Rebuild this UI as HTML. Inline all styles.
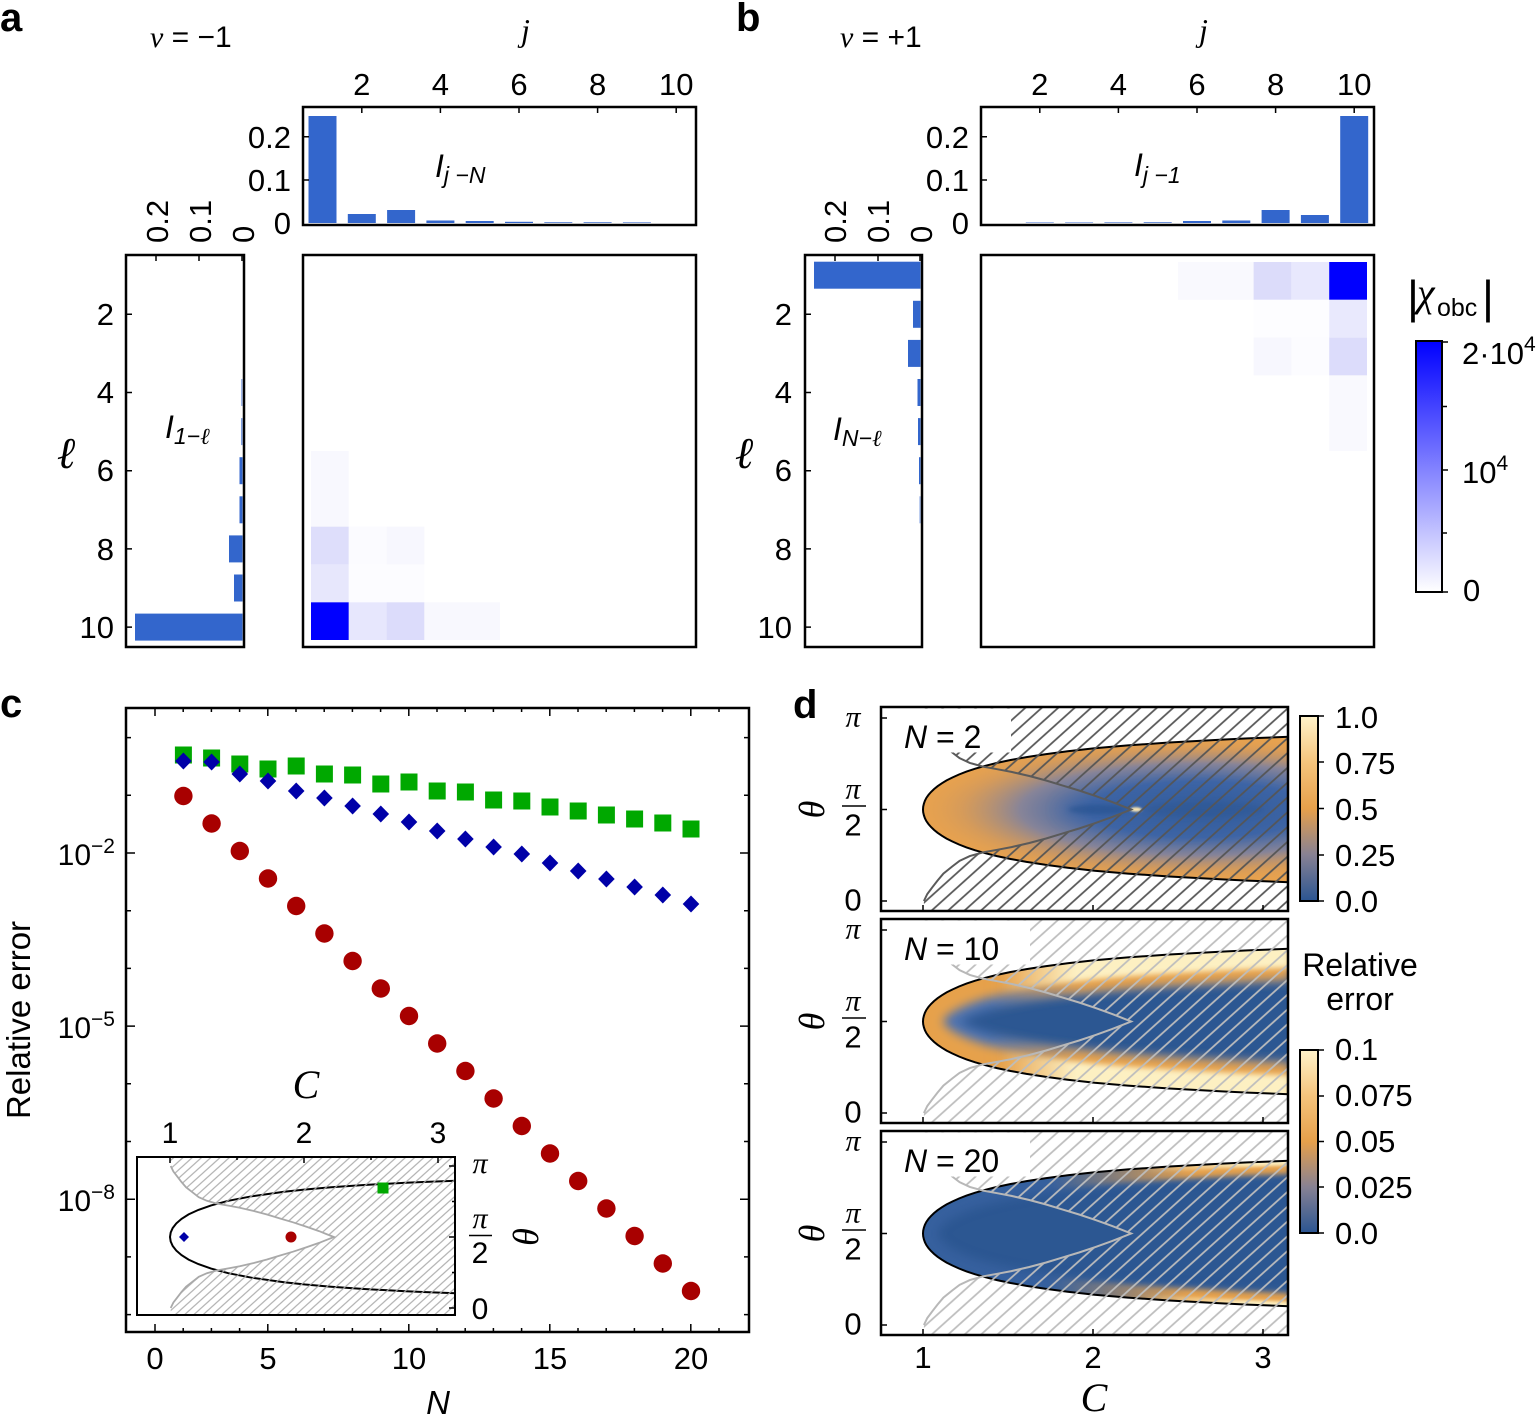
<!DOCTYPE html>
<html><head><meta charset="utf-8">
<style>
html,body{margin:0;padding:0;background:#fff;}
svg{display:block;}
text{font-family:"Liberation Sans",Arial,sans-serif;fill:#000;}
.s{font-family:"Liberation Serif","DejaVu Serif",serif;font-style:italic;}
.i{font-style:italic;}
.b{font-weight:bold;}
</style></head><body>
<svg width="1540" height="1417" viewBox="0 0 1540 1417" xmlns="http://www.w3.org/2000/svg">
<defs>
 <linearGradient id="gB" x1="0" y1="0" x2="0" y2="1"><stop offset="0" stop-color="#0000ff"/><stop offset="1" stop-color="#ffffff"/></linearGradient>
 <linearGradient id="gD" x1="0" y1="0" x2="0" y2="1">
  <stop offset="0" stop-color="#fff3ca"/><stop offset="0.25" stop-color="#f5c47c"/><stop offset="0.5" stop-color="#e6a04b"/><stop offset="0.75" stop-color="#878193"/><stop offset="1" stop-color="#2b5592"/>
 </linearGradient>
 <radialGradient id="rg1">
  <stop offset="0" stop-color="#2e5a99"/>
  <stop offset="0.38" stop-color="#3e65a6"/>
  <stop offset="0.62" stop-color="#878498" stop-opacity="1"/>
  <stop offset="0.82" stop-color="#c99662" stop-opacity="0.6"/>
  <stop offset="1" stop-color="#e8a24e" stop-opacity="0"/>
 </radialGradient>
 <linearGradient id="or2" gradientUnits="userSpaceOnUse" x1="990" y1="0" x2="1080" y2="0"><stop offset="0" stop-color="#e6a14c" stop-opacity="0"/><stop offset="1" stop-color="#e6a14c" stop-opacity="1"/></linearGradient>
 <linearGradient id="ye2" gradientUnits="userSpaceOnUse" x1="1000" y1="0" x2="1075" y2="0"><stop offset="0" stop-color="#fdf0c2" stop-opacity="0"/><stop offset="1" stop-color="#fdf0c2" stop-opacity="1"/></linearGradient>
 <linearGradient id="or3" gradientUnits="userSpaceOnUse" x1="1050" y1="0" x2="1190" y2="0"><stop offset="0" stop-color="#e6a14c" stop-opacity="0"/><stop offset="1" stop-color="#e6a14c" stop-opacity="1"/></linearGradient>
 <linearGradient id="ye3" gradientUnits="userSpaceOnUse" x1="1140" y1="0" x2="1250" y2="0"><stop offset="0" stop-color="#fdf0c2" stop-opacity="0"/><stop offset="1" stop-color="#fdf0c2" stop-opacity="1"/></linearGradient>
 <filter id="f5" x="-20%" y="-60%" width="140%" height="220%"><feGaussianBlur stdDeviation="5"/></filter>
 <filter id="f3" x="-20%" y="-60%" width="140%" height="220%"><feGaussianBlur stdDeviation="3"/></filter>
 <filter id="f8" x="-30%" y="-100%" width="160%" height="300%"><feGaussianBlur stdDeviation="8"/></filter>
 <filter id="f2" x="-30%" y="-100%" width="160%" height="300%"><feGaussianBlur stdDeviation="2.5"/></filter>
 <filter id="f15" x="-20%" y="-60%" width="140%" height="220%"><feGaussianBlur stdDeviation="1.5"/></filter>
 <filter id="f1" x="-50%" y="-200%" width="200%" height="500%"><feGaussianBlur stdDeviation="1"/></filter>
 <pattern id="hd1" patternUnits="userSpaceOnUse" width="20" height="11" patternTransform="rotate(-42)"><line x1="-2" y1="5.5" x2="22" y2="5.5" stroke="#555" stroke-width="1.7"/></pattern>
 <pattern id="hd2" patternUnits="userSpaceOnUse" width="20" height="11" patternTransform="rotate(-42)"><line x1="-2" y1="5.5" x2="22" y2="5.5" stroke="#bdbdbd" stroke-width="1.7"/></pattern>
 <pattern id="hc" patternUnits="userSpaceOnUse" width="10" height="6.2" patternTransform="rotate(-42)"><line x1="-2" y1="3.1" x2="12" y2="3.1" stroke="#a9a9a9" stroke-width="1.1"/></pattern>
 <path id="blk" d="M1289,-72.7 L1247.7,-71.1 L1222.1,-69.9 L1169.2,-67 L1127.8,-64.1 L1094.6,-61.2 L1067.7,-58.25 L1045.3,-55.3 L1026.5,-52.4 L1010.6,-49.5 L997,-46.6 L985.3,-43.7 L975.2,-40.8 L966.5,-37.9 L959,-35 L952.4,-32 L946.6,-29.1 L941.8,-26.2 L937.6,-23.3 L934,-20.4 L931,-17.5 L928.5,-14.6 L926.4,-11.65 L924.9,-8.74 L923.9,-5.8 L923.2,-2.9 L923,0 L923.2,2.9 L923.9,5.8 L924.9,8.74 L926.4,11.65 L928.5,14.6 L931,17.5 L934,20.4 L937.6,23.3 L941.8,26.2 L946.6,29.1 L952.4,32 L959,35 L966.5,37.9 L975.2,40.8 L985.3,43.7 L997,46.6 L1010.6,49.5 L1026.5,52.4 L1045.3,55.3 L1067.7,58.25 L1094.6,61.2 L1127.8,64.1 L1169.2,67 L1222.1,69.9 L1247.7,71.1 L1289,72.7"/>
 <path id="gry" d="M923.9,91.5 L927.3,84.5 L932.4,77.7 L937.5,71.1 L943.4,64.1 L952.2,57 L959.6,51.3 L969.8,46.6 L982.5,43 L997.8,40.2 L1011.4,37.6 L1029.3,33.5 L1046.1,29 L1062.7,23.9 L1079.1,19 L1095.7,13.4 L1112,7.6 L1121.6,3.8 L1131.1,0 L1121.6,-3.8 L1112,-7.6 L1095.7,-13.4 L1079.1,-19 L1062.7,-23.9 L1046.1,-29 L1029.3,-33.5 L1011.4,-37.6 L997.8,-40.2 L982.5,-43 L969.8,-46.6 L959.6,-51.3 L952.2,-57 L943.4,-64.1 L937.5,-71.1 L932.4,-77.7 L927.3,-84.5 L923.9,-91.5"/>
 <path id="hreg" d="M923.9,-102 L1288,-102 L1288,101 L923.9,101 L923.9,91.5 L927.3,84.5 L932.4,77.7 L937.5,71.1 L943.4,64.1 L952.2,57 L959.6,51.3 L969.8,46.6 L982.5,43 L997.8,40.2 L1011.4,37.6 L1029.3,33.5 L1046.1,29 L1062.7,23.9 L1079.1,19 L1095.7,13.4 L1112,7.6 L1121.6,3.8 L1131.1,0 L1121.6,-3.8 L1112,-7.6 L1095.7,-13.4 L1079.1,-19 L1062.7,-23.9 L1046.1,-29 L1029.3,-33.5 L1011.4,-37.6 L997.8,-40.2 L982.5,-43 L969.8,-46.6 L959.6,-51.3 L952.2,-57 L943.4,-64.1 L937.5,-71.1 L932.4,-77.7 L927.3,-84.5 L923.9,-91.5 Z"/>
 <clipPath id="inD"><path d="M1289,-72.7 L1247.7,-71.1 L1222.1,-69.9 L1169.2,-67 L1127.8,-64.1 L1094.6,-61.2 L1067.7,-58.25 L1045.3,-55.3 L1026.5,-52.4 L1010.6,-49.5 L997,-46.6 L985.3,-43.7 L975.2,-40.8 L966.5,-37.9 L959,-35 L952.4,-32 L946.6,-29.1 L941.8,-26.2 L937.6,-23.3 L934,-20.4 L931,-17.5 L928.5,-14.6 L926.4,-11.65 L924.9,-8.74 L923.9,-5.8 L923.2,-2.9 L923,0 L923.2,2.9 L923.9,5.8 L924.9,8.74 L926.4,11.65 L928.5,14.6 L931,17.5 L934,20.4 L937.6,23.3 L941.8,26.2 L946.6,29.1 L952.4,32 L959,35 L966.5,37.9 L975.2,40.8 L985.3,43.7 L997,46.6 L1010.6,49.5 L1026.5,52.4 L1045.3,55.3 L1067.7,58.25 L1094.6,61.2 L1127.8,64.1 L1169.2,67 L1222.1,69.9 L1247.7,71.1 L1289,72.7 Z"/></clipPath>
</defs>

<!-- ============ PANEL A ============ -->
<text x="0" y="31" font-size="40" class="b">a</text>
<text x="150" y="47" font-size="30"><tspan class="s">ν</tspan> = −1</text>
<text x="521" y="41" font-size="32" class="s">j</text>
<g font-size="31" text-anchor="middle">
 <text x="361.8" y="95">2</text><text x="440.4" y="95">4</text><text x="519" y="95">6</text><text x="597.6" y="95">8</text><text x="676.2" y="95">10</text>
</g>
<g font-size="31" text-anchor="end">
 <text x="291" y="148">0.2</text><text x="291" y="191">0.1</text><text x="291" y="234">0</text>
</g>
<g fill="#3366cc">
 <rect x="308.5" y="116" width="28" height="107"/>
 <rect x="347.8" y="214" width="28" height="9"/>
 <rect x="387.1" y="210" width="28" height="13"/>
 <rect x="426.4" y="220.5" width="28" height="2.5"/>
 <rect x="465.7" y="221" width="28" height="2"/>
 <rect x="505" y="221.8" width="28" height="1.2"/>
 <rect x="544.3" y="222" width="28" height="1" fill="#6f92d8"/>
 <rect x="583.6" y="222" width="28" height="1" fill="#6f92d8"/>
 <rect x="622.9" y="222" width="28" height="1" fill="#8aa6e0"/>
</g>
<rect x="303" y="107" width="393" height="118" fill="none" stroke="#000" stroke-width="2.5"/>
<path d="M361.8,107v6M440.4,107v6M519,107v6M597.6,107v6M676.2,107v6M303,180h6M303,136.7h6" stroke="#000" stroke-width="1.5"/>
<text x="435" y="177" font-size="32" class="i">I<tspan font-size="23" dy="6">j −N</tspan></text>

<!-- left bars a -->
<g font-size="31">
 <text transform="translate(168,243) rotate(-90)">0.2</text>
 <text transform="translate(211,243) rotate(-90)">0.1</text>
 <text transform="translate(254,243) rotate(-90)">0</text>
</g>
<g font-size="31" text-anchor="end">
 <text x="114" y="325">2</text><text x="114" y="403">4</text><text x="114" y="481">6</text><text x="114" y="560">8</text><text x="114" y="638">10</text>
</g>
<text x="66" y="468" font-size="44" class="s" text-anchor="middle">ℓ</text>
<g fill="#3366cc">
 <rect x="135" y="613.6" width="107.5" height="27"/>
 <rect x="234" y="574.5" width="8.5" height="27"/>
 <rect x="229" y="535.4" width="13.5" height="27"/>
 <rect x="239.5" y="496.3" width="3" height="27"/>
 <rect x="239.5" y="457.2" width="3" height="27"/>
 <rect x="241" y="418.1" width="1.5" height="27" fill="#7f9fe0"/>
 <rect x="241" y="379" width="1.5" height="27" fill="#9fb6e8"/>
</g>
<rect x="126" y="255" width="118" height="392" fill="none" stroke="#000" stroke-width="2.5"/>
<path d="M126,314.3h6M126,392.5h6M126,470.7h6M126,548.9h6M126,627.1h6M156,255v6M199,255v6M242,255v6" stroke="#000" stroke-width="1.5"/>
<text x="165" y="438" font-size="32" class="i">I<tspan font-size="23" dy="6">1−<tspan class="s">ℓ</tspan></tspan></text>

<!-- heatmap a -->
<g>
 <rect x="311" y="602.2" width="37.8" height="37.8" fill="#0000ff"/>
 <rect x="348.8" y="602.2" width="37.8" height="37.8" fill="#e7e7fd"/>
 <rect x="386.6" y="602.2" width="37.8" height="37.8" fill="#dcdcfb"/>
 <rect x="424.4" y="602.2" width="75.6" height="37.8" fill="#f8f8fe"/>
 <rect x="311" y="564.4" width="37.8" height="37.8" fill="#e7e7fc"/>
 <rect x="348.8" y="564.4" width="75.6" height="37.8" fill="#fcfcff"/>
 <rect x="311" y="526.6" width="37.8" height="37.8" fill="#dedefb"/>
 <rect x="348.8" y="526.6" width="37.8" height="37.8" fill="#fbfbff"/>
 <rect x="386.6" y="526.6" width="37.8" height="37.8" fill="#f7f7fe"/>
 <rect x="311" y="451" width="37.8" height="75.6" fill="#f8f8fe"/>
</g>
<rect x="303" y="255" width="393" height="392" fill="none" stroke="#000" stroke-width="2.5"/>

<!-- ============ PANEL B ============ -->
<text x="736" y="31" font-size="40" class="b">b</text>
<text x="840" y="47" font-size="30"><tspan class="s">ν</tspan> = +1</text>
<text x="1199" y="41" font-size="32" class="s">j</text>
<g font-size="31" text-anchor="middle">
 <text x="1039.8" y="95">2</text><text x="1118.4" y="95">4</text><text x="1197" y="95">6</text><text x="1275.6" y="95">8</text><text x="1354.2" y="95">10</text>
</g>
<g font-size="31" text-anchor="end">
 <text x="969" y="148">0.2</text><text x="969" y="191">0.1</text><text x="969" y="234">0</text>
</g>
<g fill="#3366cc">
 <rect x="1340.2" y="116" width="28" height="107"/>
 <rect x="1300.9" y="215" width="28" height="8"/>
 <rect x="1261.6" y="210" width="28" height="13"/>
 <rect x="1222.3" y="220.5" width="28" height="2.5"/>
 <rect x="1183" y="221" width="28" height="2"/>
 <rect x="1143.7" y="222" width="28" height="1" fill="#6f92d8"/>
 <rect x="1104.4" y="222" width="28" height="1" fill="#8aa6e0"/>
 <rect x="1065.1" y="222" width="28" height="1" fill="#9fb6e8"/>
 <rect x="1025.8" y="222" width="28" height="1" fill="#9fb6e8"/>
</g>
<rect x="981" y="107" width="393" height="118" fill="none" stroke="#000" stroke-width="2.5"/>
<path d="M1039.8,107v6M1118.4,107v6M1197,107v6M1275.6,107v6M1354.2,107v6M981,180h6M981,136.7h6" stroke="#000" stroke-width="1.5"/>
<text x="1134" y="176" font-size="32" class="i">I<tspan font-size="23" dy="7">j −1</tspan></text>

<g font-size="31">
 <text transform="translate(846,243) rotate(-90)">0.2</text>
 <text transform="translate(889,243) rotate(-90)">0.1</text>
 <text transform="translate(932,243) rotate(-90)">0</text>
</g>
<g font-size="31" text-anchor="end">
 <text x="792" y="325">2</text><text x="792" y="403">4</text><text x="792" y="481">6</text><text x="792" y="560">8</text><text x="792" y="638">10</text>
</g>
<text x="744" y="468" font-size="44" class="s" text-anchor="middle">ℓ</text>
<g fill="#3366cc">
 <rect x="814" y="261.7" width="106.5" height="27"/>
 <rect x="913" y="300.8" width="7.5" height="27"/>
 <rect x="908" y="339.9" width="12.5" height="27"/>
 <rect x="917.5" y="379" width="3" height="27"/>
 <rect x="918" y="418.1" width="2.5" height="27"/>
 <rect x="919" y="457.2" width="1.5" height="27"/>
 <rect x="919.5" y="496.3" width="1" height="27" fill="#7f9fe0"/>
</g>
<rect x="805" y="255" width="117" height="392" fill="none" stroke="#000" stroke-width="2.5"/>
<path d="M805,314.3h6M805,392.5h6M805,470.7h6M805,548.9h6M805,627.1h6M835,255v6M878,255v6M920,255v6" stroke="#000" stroke-width="1.5"/>
<text x="833" y="440" font-size="32" class="i">I<tspan font-size="23" dy="6">N−<tspan class="s">ℓ</tspan></tspan></text>

<!-- heatmap b -->
<g>
 <rect x="1178" y="262" width="75.6" height="37.8" fill="#f9f9fe"/>
 <rect x="1253.6" y="262" width="37.8" height="37.8" fill="#dcdcfa"/>
 <rect x="1291.4" y="262" width="37.8" height="37.8" fill="#e8e8fd"/>
 <rect x="1329.2" y="262" width="37.8" height="37.8" fill="#0000ff"/>
 <rect x="1253.6" y="299.8" width="75.6" height="37.8" fill="#fdfdff"/>
 <rect x="1329.2" y="299.8" width="37.8" height="37.8" fill="#e9e9fd"/>
 <rect x="1253.6" y="337.6" width="37.8" height="37.8" fill="#f7f7fe"/>
 <rect x="1291.4" y="337.6" width="37.8" height="37.8" fill="#fcfcff"/>
 <rect x="1329.2" y="337.6" width="37.8" height="37.8" fill="#dcdcfb"/>
 <rect x="1329.2" y="375.4" width="37.8" height="75.6" fill="#f9f9fe"/>
</g>
<rect x="981" y="255" width="393" height="392" fill="none" stroke="#000" stroke-width="2.5"/>

<!-- colorbar b -->
<text x="1407" y="313" font-size="46">|</text>
<text x="1417" y="306" font-size="40" class="s">χ</text>
<text x="1437" y="316" font-size="25">obc</text>
<text x="1482" y="313" font-size="46">|</text>
<rect x="1416" y="341" width="26" height="251" fill="url(#gB)" stroke="#000" stroke-width="2"/>
<path d="M1442,342h6M1442,406.5h5M1442,470h6M1442,533h5M1442,592h6" stroke="#000" stroke-width="1.5"/>
<text x="1462" y="364" font-size="31">2·10<tspan font-size="21" dy="-13">4</tspan></text>
<text x="1462" y="483" font-size="31">10<tspan font-size="21" dy="-13">4</tspan></text>
<text x="1463" y="601" font-size="31">0</text>

<!-- ============ PANEL C ============ -->
<text x="0" y="717" font-size="40" class="b">c</text>
<rect x="126" y="708" width="623" height="624" fill="none" stroke="#000" stroke-width="2.5"/>
<path stroke="#000" stroke-width="1.5" d="M155,1332v-8M183.2,1332v-4M211.4,1332v-4M239.6,1332v-4M267.8,1332v-8M296,1332v-4M324.2,1332v-4M352.4,1332v-4M380.6,1332v-4M408.8,1332v-8M437,1332v-4M465.2,1332v-4M493.4,1332v-4M521.6,1332v-4M549.8,1332v-8M578,1332v-4M606.2,1332v-4M634.4,1332v-4M662.6,1332v-4M690.8,1332v-8M719,1332v-4
M155,708v8M183.2,708v4M211.4,708v4M239.6,708v4M267.8,708v8M296,708v4M324.2,708v4M352.4,708v4M380.6,708v4M408.8,708v8M437,708v4M465.2,708v4M493.4,708v4M521.6,708v4M549.8,708v8M578,708v4M606.2,708v4M634.4,708v4M662.6,708v4M690.8,708v8M719,708v4
M126,737.6h5M126,795.3h5M126,853h9M126,910.7h5M126,968.4h5M126,1026.1h9M126,1083.8h5M126,1141.5h5M126,1199.2h9M126,1256.9h5M126,1314.6h5
M749,737.6h-5M749,795.3h-5M749,853h-9M749,910.7h-5M749,968.4h-5M749,1026.1h-9M749,1083.8h-5M749,1141.5h-5M749,1199.2h-9M749,1256.9h-5M749,1314.6h-5"/>
<g font-size="31" text-anchor="middle">
 <text x="155" y="1369">0</text><text x="268" y="1369">5</text><text x="409" y="1369">10</text><text x="550" y="1369">15</text><text x="691" y="1369">20</text>
</g>
<g font-size="30" text-anchor="end">
 <text x="115" y="865">10<tspan font-size="21" dy="-12">−2</tspan></text>
 <text x="115" y="1038">10<tspan font-size="21" dy="-12">−5</tspan></text>
 <text x="115" y="1211">10<tspan font-size="21" dy="-12">−8</tspan></text>
</g>
<text x="438" y="1414" font-size="33" class="i" text-anchor="middle">N</text>
<text transform="translate(30,1020) rotate(-90)" font-size="33" text-anchor="middle">Relative error</text>

<!-- markers -->
<g fill="#00a800">
 <rect x="174.9" y="746.5" width="17" height="17"/><rect x="203.1" y="749.5" width="17" height="17"/><rect x="231.3" y="755.5" width="17" height="17"/><rect x="259.5" y="760.5" width="17" height="17"/><rect x="287.7" y="757.5" width="17" height="17"/><rect x="315.9" y="765.5" width="17" height="17"/><rect x="344.1" y="766.5" width="17" height="17"/><rect x="372.3" y="775.5" width="17" height="17"/><rect x="400.5" y="773.5" width="17" height="17"/><rect x="428.7" y="782.5" width="17" height="17"/><rect x="456.9" y="783.5" width="17" height="17"/><rect x="485.1" y="791.5" width="17" height="17"/><rect x="513.3" y="792.5" width="17" height="17"/><rect x="541.5" y="798.5" width="17" height="17"/><rect x="569.7" y="802.5" width="17" height="17"/><rect x="597.9" y="806.5" width="17" height="17"/><rect x="626.1" y="810.5" width="17" height="17"/><rect x="654.3" y="814.5" width="17" height="17"/><rect x="682.5" y="820.5" width="17" height="17"/>
</g>
<g fill="#0000a8">
 <path d="M183.4,752.5l8.3,8.5l-8.3,8.5l-8.3,-8.5z"/><path d="M211.6,753.5l8.3,8.5l-8.3,8.5l-8.3,-8.5z"/><path d="M239.8,765.5l8.3,8.5l-8.3,8.5l-8.3,-8.5z"/><path d="M268,772.5l8.3,8.5l-8.3,8.5l-8.3,-8.5z"/><path d="M296.2,782.5l8.3,8.5l-8.3,8.5l-8.3,-8.5z"/><path d="M324.4,789.5l8.3,8.5l-8.3,8.5l-8.3,-8.5z"/><path d="M352.6,797.5l8.3,8.5l-8.3,8.5l-8.3,-8.5z"/><path d="M380.8,805.5l8.3,8.5l-8.3,8.5l-8.3,-8.5z"/><path d="M409,813.5l8.3,8.5l-8.3,8.5l-8.3,-8.5z"/><path d="M437.2,822.5l8.3,8.5l-8.3,8.5l-8.3,-8.5z"/><path d="M465.4,830.5l8.3,8.5l-8.3,8.5l-8.3,-8.5z"/><path d="M493.6,838.5l8.3,8.5l-8.3,8.5l-8.3,-8.5z"/><path d="M521.8,845.5l8.3,8.5l-8.3,8.5l-8.3,-8.5z"/><path d="M550,854.5l8.3,8.5l-8.3,8.5l-8.3,-8.5z"/><path d="M578.2,862.5l8.3,8.5l-8.3,8.5l-8.3,-8.5z"/><path d="M606.4,870.5l8.3,8.5l-8.3,8.5l-8.3,-8.5z"/><path d="M634.6,878.5l8.3,8.5l-8.3,8.5l-8.3,-8.5z"/><path d="M662.8,886.5l8.3,8.5l-8.3,8.5l-8.3,-8.5z"/><path d="M691,895.5l8.3,8.5l-8.3,8.5l-8.3,-8.5z"/>
</g>
<g fill="#a80000">
 <circle cx="183.4" cy="796" r="9.2"/><circle cx="211.6" cy="823.5" r="9.2"/><circle cx="239.8" cy="851" r="9.2"/><circle cx="268" cy="878.5" r="9.2"/><circle cx="296.2" cy="906" r="9.2"/><circle cx="324.4" cy="933.5" r="9.2"/><circle cx="352.6" cy="961" r="9.2"/><circle cx="380.8" cy="988.5" r="9.2"/><circle cx="409" cy="1016" r="9.2"/><circle cx="437.2" cy="1043.5" r="9.2"/><circle cx="465.4" cy="1071" r="9.2"/><circle cx="493.6" cy="1098.5" r="9.2"/><circle cx="521.8" cy="1126" r="9.2"/><circle cx="550" cy="1153.5" r="9.2"/><circle cx="578.2" cy="1181" r="9.2"/><circle cx="606.4" cy="1208.5" r="9.2"/><circle cx="634.6" cy="1236" r="9.2"/><circle cx="662.8" cy="1263.5" r="9.2"/><circle cx="691" cy="1291" r="9.2"/>
</g>

<!-- inset c -->
<rect x="137" y="1157" width="318" height="158" fill="#fff"/>
<path d="M456,1180.7 L426,1181.9 L405.8,1182.8 L364,1185 L331.2,1187.3 L305.3,1189.5 L284,1191.8 L251.6,1196.3 L228.3,1200.8 L211.1,1205.4 L198.4,1209.9 L188.6,1214.4 L181.5,1218.9 L176.3,1223.4 L172.7,1228 L170.7,1232.5 L170,1237 L170.7,1241.5 L172.7,1246 L176.3,1250.6 L181.5,1255.1 L188.6,1259.6 L198.4,1264.1 L211.1,1268.6 L228.3,1273.2 L251.6,1277.7 L284,1282.2 L305.3,1284.5 L331.2,1286.7 L364,1289 L405.8,1291.2 L426,1292.1 L456,1293.3" fill="none" stroke="#000" stroke-width="2"/>
<path fill="url(#hc)" d="M170.7,1158 L455,1158 L455,1315 L170.7,1315 L170.7,1308 L173.4,1302.5 L177.4,1297.3 L181.4,1292.1 L186.1,1286.7 L193,1281.3 L198.8,1276.8 L206.9,1273.2 L216.9,1270.4 L229,1268.2 L239.7,1266.2 L253.8,1263 L267,1259.5 L280.1,1255.5 L293,1251.7 L306.1,1247.4 L319,1242.9 L326.5,1239.9 L334,1237 L326.5,1234.1 L319,1231.1 L306.1,1226.6 L293,1222.3 L280.1,1218.5 L267,1214.5 L253.8,1211 L239.7,1207.8 L229,1205.8 L216.9,1203.6 L206.9,1200.8 L198.8,1197.2 L193,1192.7 L186.1,1187.3 L181.4,1181.9 L177.4,1176.7 L173.4,1171.5 L170.7,1166 Z"/>
<path fill="none" stroke="#a9a9a9" stroke-width="1.8" d="M170.7,1308 L173.4,1302.5 L177.4,1297.3 L181.4,1292.1 L186.1,1286.7 L193,1281.3 L198.8,1276.8 L206.9,1273.2 L216.9,1270.4 L229,1268.2 L239.7,1266.2 L253.8,1263 L267,1259.5 L280.1,1255.5 L293,1251.7 L306.1,1247.4 L319,1242.9 L326.5,1239.9 L334,1237 L326.5,1234.1 L319,1231.1 L306.1,1226.6 L293,1222.3 L280.1,1218.5 L267,1214.5 L253.8,1211 L239.7,1207.8 L229,1205.8 L216.9,1203.6 L206.9,1200.8 L198.8,1197.2 L193,1192.7 L186.1,1187.3 L181.4,1181.9 L177.4,1176.7 L173.4,1171.5 L170.7,1166"/>
<path d="M184,1232l5,5l-5,5l-5,-5z" fill="#0000a8"/>
<circle cx="291" cy="1237" r="5.5" fill="#a80000"/>
<rect x="377.5" y="1182.5" width="11" height="11" fill="#00a800"/>
<rect x="137" y="1157" width="318" height="158" fill="none" stroke="#000" stroke-width="2"/>
<path d="M170,1157v6M304,1157v6M438,1157v6M237,1157v3M371,1157v3M455,1166h-6M455,1237h-6M455,1308h-6M455,1201.5h-3M455,1272.5h-3" stroke="#000" stroke-width="1.5"/>
<g font-size="30" text-anchor="middle">
 <text x="170" y="1143">1</text><text x="304" y="1143">2</text><text x="438" y="1143">3</text>
</g>
<text x="306" y="1098" font-size="40" class="s" text-anchor="middle">C</text>
<text x="480" y="1173" font-size="30" class="s" text-anchor="middle">π</text>
<text x="480" y="1228" font-size="30" class="s" text-anchor="middle">π</text>
<path d="M469,1235.5h23" stroke="#000" stroke-width="1.5"/>
<text x="480" y="1263" font-size="30" text-anchor="middle">2</text>
<text x="480" y="1319" font-size="30" text-anchor="middle">0</text>
<text transform="translate(538,1237) rotate(-90)" font-size="36" class="s" text-anchor="middle">θ</text>

<!-- ============ PANEL D ============ -->
<text x="793" y="718" font-size="40" class="b">d</text>

<!-- subplot 1 -->
<g transform="translate(0,809.5)">
 <rect x="881" y="-102.5" width="407" height="204" fill="#fff"/>
 <g clip-path="url(#inD)">
  <rect x="880" y="-105" width="410" height="210" fill="#e8a24e"/>
  <ellipse cx="1200" cy="0" rx="290" ry="74" fill="url(#rg1)"/>
  <ellipse cx="1180" cy="0" rx="120" ry="18" fill="#3a62a3" opacity="0.5" filter="url(#f8)"/>
  <ellipse cx="1098" cy="0" rx="30" ry="5" fill="#24508c" opacity="0.55" filter="url(#f2)"/>
  <ellipse cx="1205" cy="0" rx="60" ry="8" fill="#2a5490" opacity="0.45" filter="url(#f3)"/>
  <ellipse cx="1136" cy="0" rx="6" ry="2.2" fill="#ffe9b0" filter="url(#f1)"/>
 </g>
 <use href="#blk" fill="none" stroke="#000" stroke-width="2"/>
 <use href="#hreg" fill="url(#hd1)"/>
 <use href="#gry" fill="none" stroke="#5a5a5a" stroke-width="2"/>
 <rect x="882.5" y="-101" width="128.5" height="44" fill="#fff"/>
 <text x="904" y="-61.5" font-size="32"><tspan class="i">N</tspan> = 2</text>
 <rect x="881" y="-102.5" width="407" height="204" fill="none" stroke="#000" stroke-width="2.5"/>
 <path d="M881,-91.5h6M881,0h6M881,91.5h6M923,101.5v-6M1093,101.5v-6M1263,101.5v-6" stroke="#000" stroke-width="1.5"/>
 <text x="853" y="-83" font-size="30" class="s" text-anchor="middle">π</text>
 <text x="853" y="-11" font-size="30" class="s" text-anchor="middle">π</text>
 <path d="M842,-3.5h24" stroke="#000" stroke-width="1.5"/>
 <text x="853" y="26" font-size="31" text-anchor="middle">2</text>
 <text x="853" y="101" font-size="31" text-anchor="middle">0</text>
 <text transform="translate(824,0) rotate(-90)" font-size="36" class="s" text-anchor="middle">θ</text>
</g>

<!-- subplot 2 -->
<g transform="translate(0,1021.5)">
 <rect x="881" y="-102.5" width="407" height="204" fill="#fff"/>
 <g clip-path="url(#inD)">
  <rect x="880" y="-105" width="410" height="210" fill="#2c5792"/>
  <use href="#blk" fill="none" stroke="#4d72b0" stroke-width="64" filter="url(#f5)"/>
  <use href="#blk" fill="none" stroke="#e6a14c" stroke-width="40" filter="url(#f5)"/>
  <use href="#blk" fill="none" stroke="url(#or2)" stroke-width="62" filter="url(#f5)"/>
  <use href="#blk" fill="none" stroke="url(#ye2)" stroke-width="38" filter="url(#f3)"/>
 </g>
 <use href="#blk" fill="none" stroke="#000" stroke-width="2"/>
 <use href="#hreg" fill="url(#hd2)"/>
 <use href="#gry" fill="none" stroke="#b8b8b8" stroke-width="2"/>
 <rect x="882.5" y="-101" width="147.5" height="44" fill="#fff"/>
 <text x="904" y="-61.5" font-size="32"><tspan class="i">N</tspan> = 10</text>
 <rect x="881" y="-102.5" width="407" height="204" fill="none" stroke="#000" stroke-width="2.5"/>
 <path d="M881,-91.5h6M881,0h6M881,91.5h6M923,101.5v-6M1093,101.5v-6M1263,101.5v-6" stroke="#000" stroke-width="1.5"/>
 <text x="853" y="-83" font-size="30" class="s" text-anchor="middle">π</text>
 <text x="853" y="-11" font-size="30" class="s" text-anchor="middle">π</text>
 <path d="M842,-3.5h24" stroke="#000" stroke-width="1.5"/>
 <text x="853" y="26" font-size="31" text-anchor="middle">2</text>
 <text x="853" y="101" font-size="31" text-anchor="middle">0</text>
 <text transform="translate(824,0) rotate(-90)" font-size="36" class="s" text-anchor="middle">θ</text>
</g>

<!-- subplot 3 -->
<g transform="translate(0,1233.5)">
 <rect x="881" y="-102.5" width="407" height="204" fill="#fff"/>
 <g clip-path="url(#inD)">
  <rect x="880" y="-105" width="410" height="210" fill="#2c5792"/>
  <use href="#blk" fill="none" stroke="#3d66a6" stroke-width="30" filter="url(#f5)" opacity="0.6"/>
  <use href="#blk" fill="none" stroke="url(#or3)" stroke-width="26" filter="url(#f3)"/>
  <use href="#blk" fill="none" stroke="url(#ye3)" stroke-width="9" filter="url(#f15)"/>
 </g>
 <use href="#blk" fill="none" stroke="#000" stroke-width="2"/>
 <use href="#hreg" fill="url(#hd2)"/>
 <use href="#gry" fill="none" stroke="#b8b8b8" stroke-width="2"/>
 <rect x="882.5" y="-101" width="147.5" height="44" fill="#fff"/>
 <text x="904" y="-61.5" font-size="32"><tspan class="i">N</tspan> = 20</text>
 <rect x="881" y="-102.5" width="407" height="204" fill="none" stroke="#000" stroke-width="2.5"/>
 <path d="M881,-91.5h6M881,0h6M881,91.5h6M923,101.5v-6M1093,101.5v-6M1263,101.5v-6" stroke="#000" stroke-width="1.5"/>
 <text x="853" y="-83" font-size="30" class="s" text-anchor="middle">π</text>
 <text x="853" y="-11" font-size="30" class="s" text-anchor="middle">π</text>
 <path d="M842,-3.5h24" stroke="#000" stroke-width="1.5"/>
 <text x="853" y="26" font-size="31" text-anchor="middle">2</text>
 <text x="853" y="101" font-size="31" text-anchor="middle">0</text>
 <text transform="translate(824,0) rotate(-90)" font-size="36" class="s" text-anchor="middle">θ</text>
</g>

<g font-size="31" text-anchor="middle">
 <text x="923" y="1368">1</text><text x="1093" y="1368">2</text><text x="1263" y="1368">3</text>
</g>
<text x="1094" y="1411" font-size="40" class="s" text-anchor="middle">C</text>

<!-- colorbars d -->
<rect x="1300" y="716" width="18" height="185" fill="url(#gD)" stroke="#000" stroke-width="2"/>
<path d="M1318,716h6M1318,762h6M1318,808.5h6M1318,855h6M1318,901h6" stroke="#000" stroke-width="1.5"/>
<g font-size="31">
 <text x="1335" y="728">1.0</text><text x="1335" y="774">0.75</text><text x="1335" y="820">0.5</text><text x="1335" y="866">0.25</text><text x="1335" y="912">0.0</text>
</g>
<text x="1360" y="976" font-size="32" text-anchor="middle">Relative</text>
<text x="1360" y="1010" font-size="32" text-anchor="middle">error</text>
<rect x="1300" y="1050" width="18" height="183" fill="url(#gD)" stroke="#000" stroke-width="2"/>
<path d="M1318,1050h6M1318,1096h6M1318,1141.5h6M1318,1187h6M1318,1233h6" stroke="#000" stroke-width="1.5"/>
<g font-size="31">
 <text x="1335" y="1060">0.1</text><text x="1335" y="1106">0.075</text><text x="1335" y="1152">0.05</text><text x="1335" y="1198">0.025</text><text x="1335" y="1244">0.0</text>
</g>
</svg>
</body></html>
